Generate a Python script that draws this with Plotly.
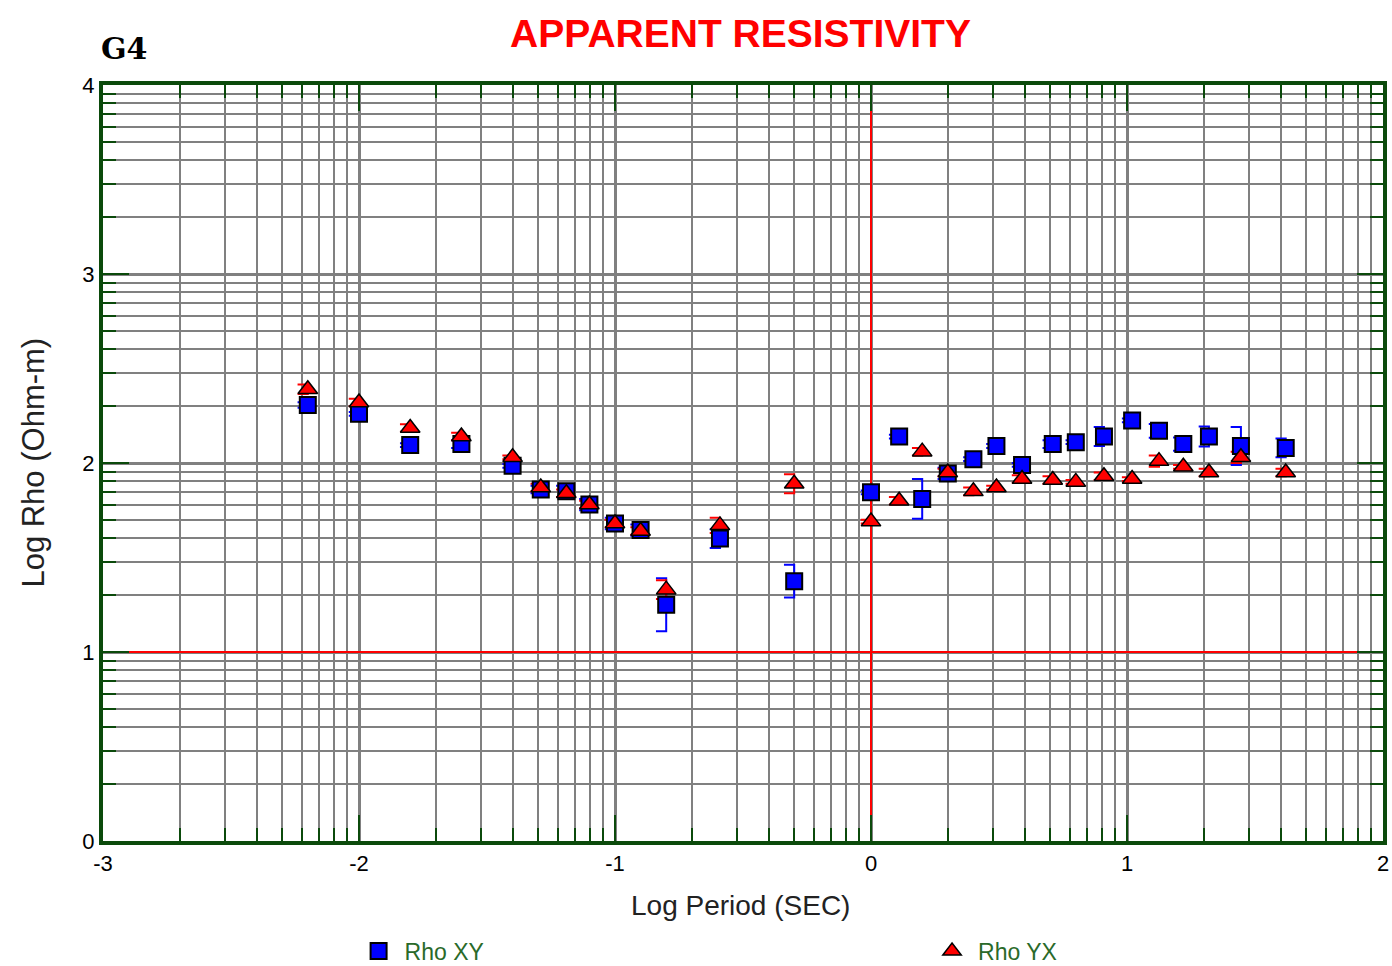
import numpy as np
import plotly.graph_objects as go

# Log10 of period (s), shared by both polarisations
log_period = [-2.2, -2.0, -1.8, -1.6, -1.4, -1.29, -1.19, -1.1, -1.0, -0.9,
              -0.8, -0.59, -0.3, 0.0, 0.11, 0.2, 0.3, 0.4, 0.49, 0.59,
              0.71, 0.8, 0.91, 1.02, 1.125, 1.22, 1.32, 1.445, 1.62]

# Log10 apparent resistivity, XY mode
rho_xy = [2.307, 2.26, 2.095, 2.10, 1.985, 1.86, 1.85, 1.78, 1.68, 1.645,
          1.25, 1.60, 1.375, 1.845, 2.14, 1.81, 1.945, 2.02, 2.09, 1.99,
          2.10, 2.11, 2.14, 2.225, 2.17, 2.10, 2.14, 2.09, 2.08]
err_xy = [0.015, 0.01, 0.01, 0.02, 0.01, 0.02, 0.03, 0.03, 0.03, 0.03,
          0.14, 0.05, 0.087, 0.01, 0.01, 0.105, 0.03, 0.01, 0.01, 0.01,
          0.02, 0.01, 0.05, 0.01, 0.037, 0.035, 0.053, 0.10, 0.05]

# Log10 apparent resistivity, YX mode
rho_yx = [2.39, 2.32, 2.185, 2.14, 2.03, 1.87, 1.84, 1.78, 1.68, 1.64,
          1.33, 1.67, 1.89, 1.69, 1.80, 2.06, 1.95, 1.85, 1.87, 1.915,
          1.91, 1.90, 1.93, 1.915, 2.01, 1.98, 1.95, 2.03, 1.95]
err_yx = [0.025, 0.02, 0.02, 0.02, 0.01, 0.02, 0.02, 0.02, 0.02, 0.02,
          0.05, 0.04, 0.05, 0.01, 0.02, 0.02, 0.02, 0.02, 0.01, 0.02,
          0.02, 0.01, 0.02, 0.01, 0.03, 0.01, 0.02, 0.03, 0.02]

x_major = [-3, -2, -1, 0, 1, 2]
y_major = [0, 1, 2, 3, 4]

FRAME = "#0b4a0b"
GRID = "#808080"
LEGEND_TEXT = "#2a6a2a"
SANS = "Liberation Sans, Arial, sans-serif"
CAP = 0.04  # cap length of the error brackets, in log-period units


def log_minor(lo, hi):
    vals = []
    for d in range(lo, hi):
        for k in range(2, 10):
            vals.append(d + np.log10(k))
    return vals


def bracket_path(xs, ys, es):
    """Error bars drawn as left-facing brackets: vertical bar with caps to the left."""
    px, py = [], []
    for x, y, e in zip(xs, ys, es):
        px += [x - CAP, x, x, x - CAP, None]
        py += [y + e, y + e, y - e, y - e, None]
    return px, py


fig = go.Figure()

bx, by = bracket_path(log_period, rho_xy, err_xy)
fig.add_trace(go.Scatter(x=bx, y=by, mode="lines", line=dict(color="#0000ff", width=2),
                         showlegend=False, hoverinfo="skip"))
rx, ry = bracket_path(log_period, rho_yx, err_yx)
fig.add_trace(go.Scatter(x=rx, y=ry, mode="lines", line=dict(color="#ff0000", width=2),
                         showlegend=False, hoverinfo="skip"))

fig.add_trace(go.Scatter(
    x=log_period, y=rho_xy, mode="markers", name="Rho XY", legend="legend",
    marker=dict(symbol="square", size=16, color="#0000ff",
                line=dict(color="black", width=2))))
fig.add_trace(go.Scatter(
    x=log_period, y=rho_yx, mode="markers", name="Rho YX", legend="legend2",
    marker=dict(symbol="triangle-up", size=17, color="#ff0000",
                line=dict(color="black", width=1.5))))

# reference lines at log period 0 and log rho 1
fig.add_shape(type="line", x0=0, x1=0, y0=0.11, y1=3.9, xref="x", yref="y",
              line=dict(color="#ff0000", width=2), layer="between")
fig.add_shape(type="line", x0=-2.93, x1=1.91, y0=1, y1=1, xref="x", yref="y",
              line=dict(color="#ff0000", width=2), layer="between")

tick_font = dict(family=SANS, size=22, color="black")

axis_common = dict(
    tickmode="array", tickfont=tick_font,
    showgrid=True, gridcolor=GRID, gridwidth=3, zeroline=False,
    showline=True, linecolor=FRAME, linewidth=4, mirror="allticks",
    ticks="inside", ticklen=26, tickwidth=2, tickcolor=FRAME,
)
fig.update_xaxes(
    range=[-3, 2], tickvals=x_major, ticktext=[str(v) for v in x_major],
    minor=dict(tickmode="array", tickvals=log_minor(-3, 2), showgrid=True,
               gridcolor=GRID, gridwidth=2, ticks="inside", ticklen=13,
               tickwidth=2, tickcolor=FRAME),
    **axis_common,
)
fig.update_yaxes(
    range=[0, 4], tickvals=y_major, ticktext=[str(v) for v in y_major],
    minor=dict(tickmode="array", tickvals=log_minor(0, 4), showgrid=True,
               gridcolor=GRID, gridwidth=2, ticks="inside", ticklen=13,
               tickwidth=2, tickcolor=FRAME),
    **axis_common,
)

legend_style = dict(orientation="h", yanchor="middle", xanchor="left", y=-0.1455,
                    itemwidth=42,
                    font=dict(family=SANS, size=23, color=LEGEND_TEXT),
                    bgcolor="rgba(0,0,0,0)")

fig.update_layout(
    width=1392, height=966, autosize=False,
    margin=dict(l=103, r=9, t=85, b=125, autoexpand=False),
    paper_bgcolor="white", plot_bgcolor="white",
    font=dict(family=SANS),
    title=dict(text="<b>APPARENT RESISTIVITY</b>", x=0.532, xanchor="center",
               y=0.965, yanchor="middle",
               font=dict(family=SANS, size=39, color="#ff0000")),
    showlegend=True,
    legend=dict(x=0.195, **legend_style),
    legend2=dict(x=0.643, **legend_style),
    annotations=[
        dict(text="<b>G4</b>", xref="paper", yref="paper", x=-0.003, y=1.048,
             xanchor="left", yanchor="middle", showarrow=False,
             font=dict(family="DejaVu Serif, Liberation Serif, serif", size=30, color="black")),
        dict(text="Log Rho (Ohm-m)", xref="paper", yref="paper", x=-0.055, y=0.5,
             xanchor="center", yanchor="middle", textangle=-90, showarrow=False,
             font=dict(family=SANS, size=31, color="#222222")),
        dict(text="Log Period (SEC)", xref="paper", yref="paper", x=0.498, y=-0.0847,
             xanchor="center", yanchor="middle", showarrow=False,
             font=dict(family=SANS, size=28, color="#222222")),
    ],
)

fig.write_html("out.html")
